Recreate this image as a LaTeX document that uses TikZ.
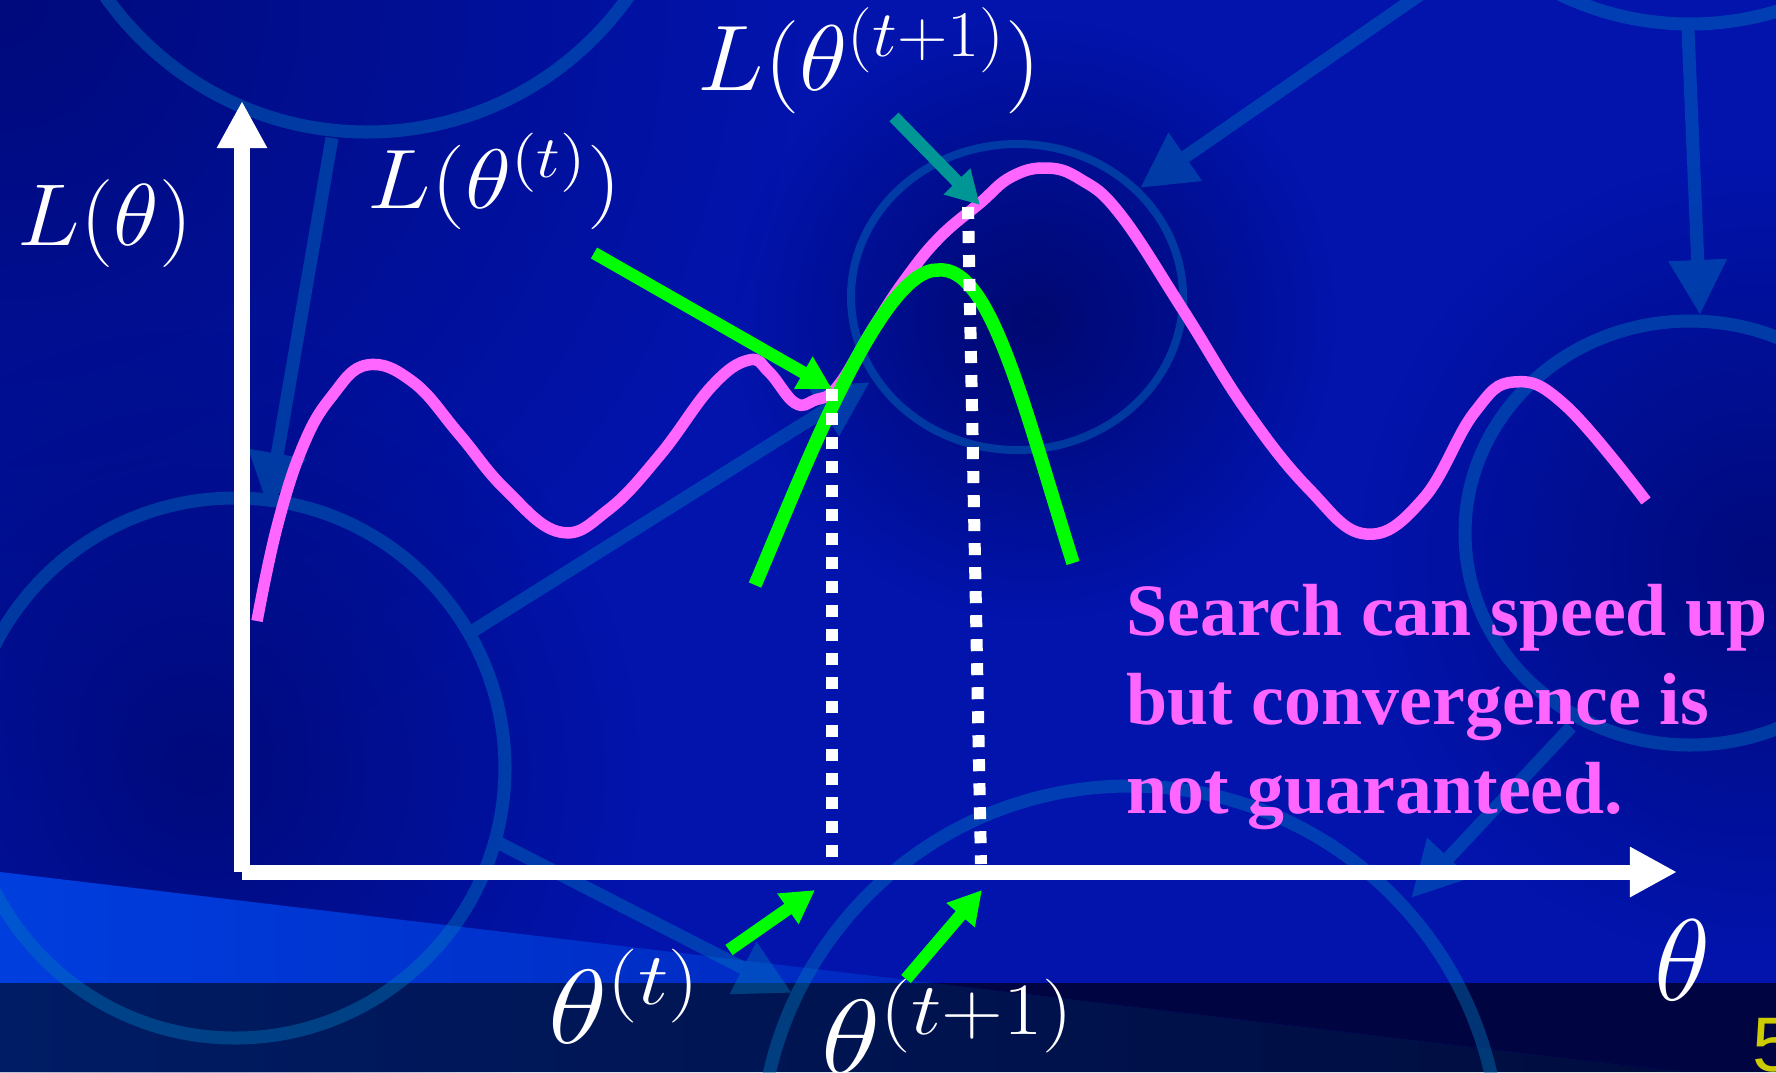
\documentclass[tikz,border=0pt]{standalone}
\usepackage{fix-cm}
\usepackage[no-math]{fontspec}
\usetikzlibrary{arrows.meta, positioning, calc, fadings}
\newfontfamily\notefont{Liberation Serif}
\newfontfamily\pagefont{Liberation Sans}

\definecolor{slidebg}{RGB}{2,20,172}
\definecolor{slidedark}{RGB}{0,8,112}
\definecolor{wedgeblue}{RGB}{0,62,222}
\definecolor{wedgefade}{RGB}{0,40,190}
\definecolor{bandlight}{RGB}{0,28,100}
\definecolor{bandmid}{RGB}{0,12,62}
\definecolor{banddeep}{RGB}{0,4,64}
\definecolor{decoblue}{RGB}{0,120,190}
\definecolor{losspink}{RGB}{255,102,255}
\definecolor{surrgreen}{RGB}{0,255,0}
\definecolor{pointteal}{RGB}{0,150,150}
\definecolor{pageyellow}{RGB}{204,204,0}

\tikzfading[name=spotfade, inner color=transparent!0, outer color=transparent!100]

\begin{document}
\begin{tikzpicture}[
  x=0.01cm, y=-0.01cm,
  axisarr/.style={white, line width=0.15cm, -{Triangle[length=0.47cm, width=0.47cm]}},
  pointer/.style={line width=0.125cm, -{Triangle[length=0.33cm, width=0.35cm]}},
  guide/.style={white, line width=0.12cm, dash pattern=on 0.12cm off 0.12cm},
  ring/.style={draw=decoblue, line width=0.13cm},
  decoarr/.style={decoblue, line width=0.13cm, -{Triangle[length=0.55cm, width=0.55cm]}},
  mathlbl/.style={white, inner sep=0pt, anchor=base west},
]
\useasboundingbox (0,0) rectangle (1776,1072);

% --- slide backdrop ---
\fill[slidebg] (0,0) rectangle (1776,1072);
\clip (0,0) rectangle (1776,1072);
\fill[slidedark, path fading=spotfade, fill opacity=0.8] (0,0) circle (800);
\fill[slidedark, path fading=spotfade] (1035,320) circle (300);
\fill[slidedark, path fading=spotfade, fill opacity=0.8] (200,770) circle (440);
\fill[slidedark, path fading=spotfade, fill opacity=0.8] (1760,560) circle (400);
\shade[left color=wedgeblue, right color=wedgefade] (0,872) -- (933,983) -- (0,983) -- cycle;
\shade[left color=bandlight, right color=bandmid] (0,983) -- (933,983) -- (1681,1072) -- (0,1072) -- cycle;
\fill[banddeep] (933,983) -- (1776,983) -- (1776,1072) -- (1681,1072) -- cycle;

% decorative rings and links
\begin{scope}[transparency group, opacity=0.42]
\draw[ring] (367,-188) circle (320);
\draw[ring, line width=0.08cm] (1017,297) ellipse (166 and 153);
\draw[ring] (235,768) circle (270);
\draw[ring] (1690,533) ellipse (225 and 212);
\draw[ring] (1130,1156) circle (370);
\draw[ring] (1690,-276) circle (300);
\foreach \ax/\ay/\bx/\by in {332/138/268/508, 468/634/870/382, 1470/-40/1140/188,
                             1688/30/1700/315, 1571/727/1411/898, 499/843/792/993}
  \draw[decoarr] (\ax,\ay) -- (\bx,\by);
\end{scope}

% --- axes ---
\coordinate (origin) at (242,872);
\coordinate (ytop) at (242,101);
\coordinate (xend) at (1677,872);
\draw[axisarr] (origin) -- (ytop);
\draw[axisarr] (origin) -- (xend);

% --- loss curve and local surrogate ---
\draw[losspink, line width=0.115cm] plot[smooth, tension=0.7] coordinates {
  (257,621) (277,527) (303,446) (332,396) (367,365) (413,382) (459,434)
  (505,489) (560,532) (608,510) (660,455) (712,386) (749,360) (769,372)
  (795,403) (815,400) (838,386) (875,325) (907,277) (940,237) (980,203)
  (1011,177) (1046,168) (1080,179) (1120,214) (1183,310) (1246,410)
  (1309,489) (1366,534) (1423,499) (1474,413) (1514,382) (1566,406) (1646,501)};
\draw[surrgreen, line width=0.135cm] (755,585) .. controls (800,480) and (880,268) .. (938,270)
  .. controls (990,265) and (1022,400) .. (1073,563);

% --- current and next iterate ---
\coordinate (ptcur) at (832,389);
\coordinate (ptnext) at (968,207);
\coordinate (marknext) at (980,205);
\coordinate (footcur) at (832,864);
\coordinate (footnext) at (981,864);
\draw[guide] (ptcur) -- (footcur);
\draw[guide] (ptnext) -- (footnext);

% --- labels ---
\node[mathlbl, font=\fontsize{25}{30}\selectfont] (lossaxis) at (17,245)
  {\scalebox{1.07}[1]{$L(\theta)$}};
\node[mathlbl, font=\fontsize{24}{29}\selectfont] (losscur) at (367,208)
  {\scalebox{1.13}[1]{$L(\theta^{(t)})$}};
\node[mathlbl, font=\fontsize{26.5}{32}\selectfont] (lossnext) at (697,90)
  {\scalebox{1.07}[1]{$L(\theta^{(t+1)})$}};
\node[mathlbl, font=\fontsize{30}{36}\selectfont] (parcur) at (548,1043)
  {\scalebox{1.16}[1]{$\theta^{(t)}$}};
\node[mathlbl, font=\fontsize{30}{36}\selectfont] (parnext) at (821,1073)
  {\scalebox{1.16}[1]{$\theta^{(t+1)}$}};
\node[mathlbl, font=\fontsize{33}{40}\selectfont] (paraxis) at (1654,1000) {$\theta$};

% --- pointers ---
\coordinate (curtail) at (594,253);
\coordinate (nexttail) at (894,117);
\coordinate (pcurtail) at (729,950);
\coordinate (pcurtip) at (815,890);
\coordinate (pnexttail) at (906,979);
\coordinate (pnexttip) at (982,890);
\draw[pointer, surrgreen] (curtail) -- (ptcur);
\draw[pointer, pointteal] (nexttail) -- (marknext);
\draw[pointer, surrgreen] (pcurtail) -- (pcurtip);
\draw[pointer, surrgreen] (pnexttail) -- (pnexttip);

% --- remark ---
\node[anchor=north west, inner sep=0pt, align=left, text=losspink,
      font=\notefont\bfseries\fontsize{21}{25.3}\selectfont] (note) at (1126,584)
  {Search can speed up\\ but convergence is\\ not guaranteed.};

\node[anchor=north west, inner sep=0pt, text=pageyellow,
      font=\pagefont\fontsize{22}{26}\selectfont] (pagenum) at (1752,1018) {5};

\end{tikzpicture}
\end{document}
